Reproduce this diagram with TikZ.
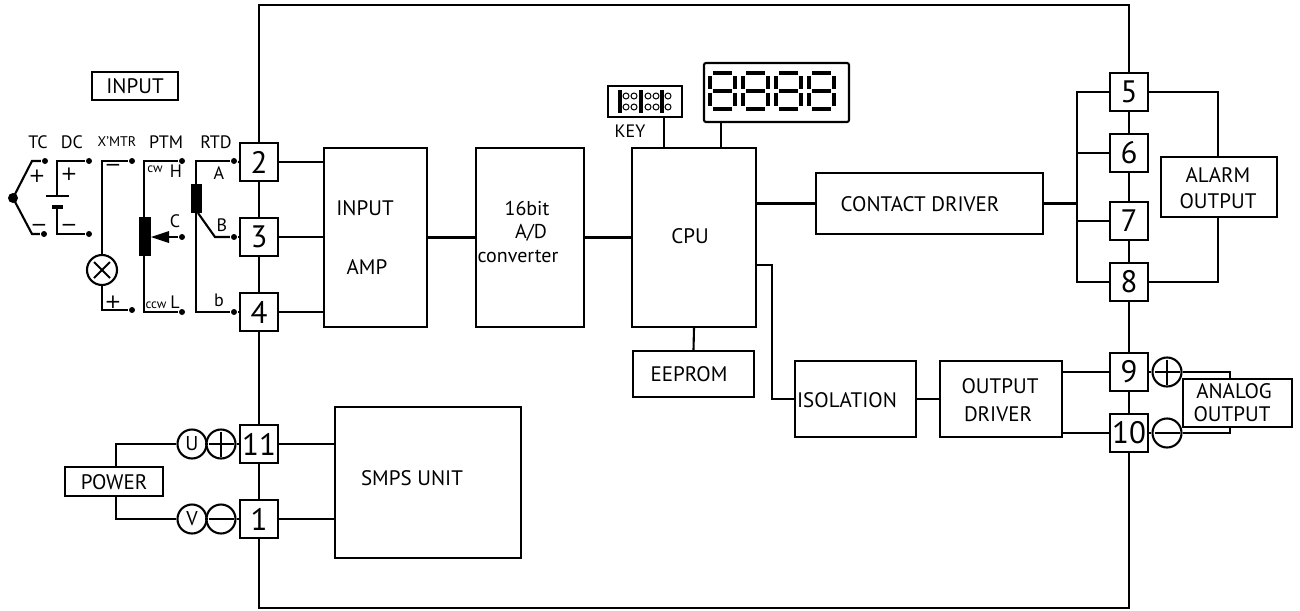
\documentclass[tikz,border=0pt]{standalone}
\usepackage{fontspec}
\setmainfont{PT Sans}
\newfontfamily\symf{DejaVu Sans}
\newcommand\fs[1]{\fontsize{#1pt}{#1pt}\selectfont}
\newcommand\segdigit[2]{%
  \begin{scope}[shift={(#1,#2)}, line width=4.5pt]
    \draw (3,0)--(22,0);
    \draw (3,18)--(22,18);
    \draw (3,36)--(22,36);
    \draw (0,3)--(0,16); \draw (25,3)--(25,16);
    \draw (0,20)--(0,33); \draw (25,20)--(25,33);
  \end{scope}}
\begin{document}
\begin{tikzpicture}[x=1pt,y=-1pt,line width=2.1pt,
  blk/.style={draw, inner sep=0pt, fill=white},
  lbl/.style={inner sep=0pt, font=\fs{21}},
  slbl/.style={inner sep=0pt, font=\fs{18}},
  tlbl/.style={inner sep=0pt, font=\fs{13}},
  sgn/.style={inner sep=0pt, font=\symf\fs{20}},
  term/.style={draw, fill=white, minimum width=38pt, minimum height=38pt, inner sep=0pt, font=\fs{31}},
  dot/.style={circle, fill, inner sep=0pt, minimum size=6pt},
  circ/.style={draw, circle, minimum size=29pt, inner sep=0pt, fill=white},
  cplus/.style={circ, path picture={
     \draw ([xshift=2pt]path picture bounding box.west) -- ([xshift=-2pt]path picture bounding box.east);
     \draw ([yshift=-2pt]path picture bounding box.north) -- ([yshift=2pt]path picture bounding box.south);}},
  cminus/.style={circ, path picture={
     \draw ([xshift=2pt]path picture bounding box.west) -- ([xshift=-2pt]path picture bounding box.east);}},
  ccross/.style={circ, minimum size=30pt, path picture={
     \draw ([shift={(-8pt,-8pt)}]path picture bounding box.center) -- ([shift={(8pt,8pt)}]path picture bounding box.center);
     \draw ([shift={(-8pt,8pt)}]path picture bounding box.center) -- ([shift={(8pt,-8pt)}]path picture bounding box.center);}}
]
\useasboundingbox (0,0) rectangle (1300,610);

% outer frame
\draw (259,5) rectangle (1129,608);

% terminals
\node[term] (t2) at (259,162) {2};
\node[term] (t3) at (259,237) {3};
\node[term] (t4) at (259,312) {4};
\node[term] (t11) at (259,444) {11};
\node[term] (t1) at (259,519) {1};
\node[term] (t5) at (1129,92) {5};
\node[term] (t6) at (1129,153) {6};
\node[term] (t7) at (1129,221) {7};
\node[term] (t8) at (1129,282) {8};
\node[term] (t9) at (1129,372) {9};
\node[term] (t10) at (1129,433) {10};

% blocks
\node[blk, minimum width=103pt, minimum height=179pt] (amp) at (375.5,237.5) {};
\node[lbl] (ampt1) at (365,208) {INPUT};
\node[lbl] (ampt2) at (367,267) {AMP};
\node[blk, minimum width=108pt, minimum height=179pt] (ad) at (530,237.5) {};
\node[lbl, font=\fs{20}] (adt1) at (527,208) {16bit};
\node[lbl, font=\fs{20}] (adt2) at (531,233) {A/D};
\node[lbl, font=\fs{20}] (adt3) at (518,256) {converter};
\node[blk, minimum width=124pt, minimum height=179pt] (cpu) at (694,237.5) {};
\node[lbl] (cput) at (690,236) {CPU};
\node[blk, minimum width=121pt, minimum height=46pt] (eeprom) at (693.5,374) {};
\node[lbl] (eet) at (689,374) {EEPROM};
\node[blk, minimum width=227pt, minimum height=61pt] (cd) at (929.5,203.5) {};
\node[lbl] (cdt) at (920,204) {CONTACT DRIVER};
\node[blk, minimum width=121pt, minimum height=76pt] (iso) at (855.5,399) {};
\node[lbl] (isot) at (847,400) {ISOLATION};
\node[blk, minimum width=122pt, minimum height=76pt] (od) at (1001,399) {};
\node[lbl] (odt1) at (1000,386) {OUTPUT};
\node[lbl] (odt2) at (998,414) {DRIVER};
\node[blk, minimum width=116pt, minimum height=60pt] (alarm) at (1219,187) {};
\node[lbl] (alt1) at (1218,175) {ALARM};
\node[lbl] (alt2) at (1218,201) {OUTPUT};
\node[blk, minimum width=109pt, minimum height=48pt] (analog) at (1237.5,403) {};
\node[lbl] (ant1) at (1234,391) {ANALOG};
\node[lbl] (ant2) at (1232,414) {OUTPUT};
\node[blk, minimum width=186pt, minimum height=151pt] (smps) at (428,482.5) {};
\node[lbl] (smpst) at (412,478) {SMPS UNIT};
\node[blk, minimum width=98pt, minimum height=29pt] (power) at (114,481.5) {};
\node[lbl] (powt) at (114,482) {POWER};
\node[blk, minimum width=86pt, minimum height=28pt] (inbox) at (135,86) {};
\node[lbl] (int) at (135,86) {INPUT};

% key
\node[blk, minimum width=74pt, minimum height=31pt] (key) at (645,101.5) {};
\node[slbl] (keyt) at (630,131) {KEY};
\foreach \bx in {620,641,662}{\fill (\bx-2,90) rectangle (\bx+2,113);}
\foreach \cx in {626,634,648,656,668}{\draw[line width=1pt] (\cx,96) circle (3) (\cx,107) circle (3);}

% display
\node[blk, rounded corners=2pt, minimum width=145pt, minimum height=59pt] (disp) at (776.5,92.5) {};
\segdigit{710}{73}
\segdigit{743}{73}
\segdigit{776}{73}
\segdigit{809}{73}

% connectors inside
\draw (t2.east) -- (t2.east -| amp.west);
\draw (t3.east) -- (t3.east -| amp.west);
\draw (t4.east) -- (t4.east -| amp.west);
\draw (amp.east) -- (ad.west);
\draw (ad.east) -- (cpu.west);
\draw (cpu.south) -- (eeprom.north);
\draw ([xshift=19pt]key.south) -- ([xshift=19pt]key.south |- cpu.north);
\draw ([xshift=-55.5pt]disp.south) -- ([xshift=-55.5pt]disp.south |- cpu.north);
\draw (cd.west) -- (cd.west -| cpu.east);
\draw ([yshift=-27.5pt]cpu.east) -- ++(15,0) |- (iso.west);
\draw (iso.east) -- (od.west);
\draw (od.east |- t9.west) -- (t9.west);
\draw (od.east |- t10.west) -- (t10.west);
\draw (t11.east) -- (t11.east -| smps.west);
\draw (t1.east) -- (t1.east -| smps.west);

% alarm rail
\coordinate (railx) at (1077,0);
\draw (t5.west) -- (t5.west -| railx) -- (t8.west -| railx) -- (t8.west);
\draw (t6.west) -- (t6.west -| railx);
\draw (t7.west) -- (t7.west -| railx);
\draw (cd.east) -- (cd.east -| railx);
\draw (t5.east) -| ([xshift=-1pt]alarm.north);
\draw (t8.east) -| ([xshift=-1pt]alarm.south);

% analog output
\node[cplus] (pl9) at (1167,372) {};
\node[cminus] (mi10) at (1167,433) {};
\draw (t9.east) -- (pl9.west);
\draw (t10.east) -- (mi10.west);
\draw (pl9.east) -| ([xshift=-7.5pt]analog.north);
\draw (mi10.east) -| ([xshift=-7.5pt]analog.south);

% power
\node[circ, font=\fs{20}] (cU) at (192,444) {U};
\node[cplus] (cP) at (221,444) {};
\node[circ, font=\fs{20}] (cV) at (192,519) {V};
\node[cminus] (cM) at (221,519) {};
\draw ([xshift=2pt]power.north) |- (cU.west);
\draw (cU.east) -- (cP.west);
\draw (cP.east) -- (t11.west);
\draw ([xshift=2pt]power.south) |- (cV.west);
\draw (cV.east) -- (cM.west);
\draw (cM.east) -- (t1.west);

% sensor labels
\node[slbl] (ltc) at (38,142) {TC};
\node[slbl] (ldc) at (72,142) {DC};
\node[inner sep=0pt, font=\fs{14}] (lxm) at (117,142) {X'MTR};
\node[slbl] (lptm) at (166,142) {PTM};
\node[slbl] (lrtd) at (216,142) {RTD};

% TC
\node[circle, fill, inner sep=0pt, minimum size=10pt] (tcj) at (13,198) {};
\node[dot] (tcp) at (45,161) {};
\node[dot] (tcm) at (44,234) {};
\draw (tcj.center) -- (32,161) -- (tcp);
\draw (tcj.center) -- (32,234) -- (tcm);
\node[sgn] at (37,176) {+};
\node[sgn] at (39,228) {−};

% DC
\node[dot] (dcp) at (89,161) {};
\node[dot] (dcm) at (89,234) {};
\draw (dcp) -- (57,161) -- (57,196);
\draw (46,196) -- (69,196);
\draw[line width=4pt] (52,207) -- (63,207);
\draw (57,207) -- (57,234) -- (dcm);
\node[sgn] at (69,174) {+};
\node[sgn] at (69,228) {−};

% X'MTR
\node[dot] (xmm) at (132,161) {};
\node[dot] (xmp) at (132,310) {};
\node[ccross] (xmc) at (102,270) {};
\draw (xmm) -- (102,161) -- (xmc.north);
\draw (xmc.south) -- (102,310) -- (xmp);
\node[sgn] at (113,168) {−};
\node[sgn] at (113,302) {+};

% PTM
\node[dot] (ph) at (182,161) {};
\node[dot] (pc) at (182,237) {};
\node[dot] (pl) at (182,312) {};
\draw (ph) -- (144,161) -- (144,312) -- (pl);
\fill (139,217) rectangle (151,256);
\fill (151,237) -- (169,231) -- (169,243) -- cycle;
\draw (169,237) -- (pc);
\node[tlbl] at (155,169) {cw};
\node[slbl] at (176,171) {H};
\node[slbl] at (175,221) {C};
\node[tlbl] at (156,305) {ccw};
\node[slbl] at (175,302) {L};

% RTD
\node[dot] (ra) at (234,161) {};
\node[dot] (rb) at (234,237) {};
\node[dot] (rbb) at (234,312) {};
\draw (ra) -- (196,161) -- (196,184);
\fill (191,184) rectangle (202,213);
\draw (196,213) -- (196,312) -- (rbb);
\draw (198,213) -- (215,237) -- (rb);
\draw (ra) -- (t2.west);
\draw (rb) -- (t3.west);
\draw (rbb) -- (t4.west);
\node[slbl] at (219,173) {A};
\node[slbl] at (222,225) {B};
\node[slbl] at (219,300) {b};
\end{tikzpicture}
\end{document}
